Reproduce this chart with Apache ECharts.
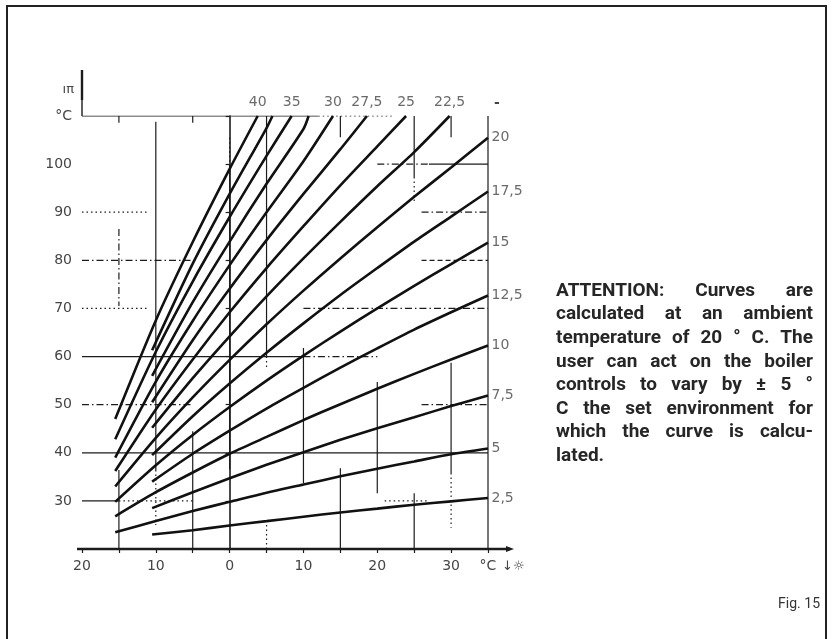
<!DOCTYPE html>
<html>
<head>
<meta charset="utf-8">
<script src="https://cdn.jsdelivr.net/npm/echarts@6/dist/echarts.min.js"></script>
<style>
  html, body { margin: 0; padding: 0; background: #fff; }
  #chart { width: 832px; height: 639px; }
</style>
</head>
<body>
<div id="chart"></div>
<script>
// Heating curves: outdoor temperature (°C) -> flow temperature (°C), one array per curve.
const curveNames = ['2,5', '5', '7,5', '10', '12,5', '15', '17,5', '20',
                    '22,5', '25', '27,5', '30', '32,5', '35', '37,5', '40'];

const curve2_5  = [[10.5, 23.0], [5, 23.9], [0, 24.9], [-5, 25.8], [-10, 26.7], [-15, 27.6], [-20, 28.4], [-25, 29.2], [-30, 29.9], [-35, 30.6]];
const curve5    = [[15.5, 23.5], [10, 25.8], [5, 27.9], [0, 29.8], [-5, 31.7], [-10, 33.4], [-15, 35.1], [-20, 36.7], [-25, 38.2], [-30, 39.7], [-35, 40.9]];
const curve7_5  = [[10.5, 28.5], [5, 31.8], [0, 34.7], [-5, 37.5], [-10, 40.1], [-15, 42.7], [-20, 45.1], [-25, 47.4], [-30, 49.7], [-35, 51.9]];
const curve10   = [[15.5, 26.8], [10, 31.8], [5, 35.9], [0, 39.8], [-5, 43.3], [-10, 46.8], [-15, 50.1], [-20, 53.3], [-25, 56.4], [-30, 59.4], [-35, 62.3]];
const curve12_5 = [[10.5, 34.0], [5, 39.8], [0, 44.6], [-5, 49.2], [-10, 53.5], [-15, 57.7], [-20, 61.7], [-25, 65.6], [-30, 69.2], [-35, 72.7]];
const curve15   = [[15.5, 29.8], [10, 37.4], [5, 43.7], [0, 49.5], [-5, 55.0], [-10, 60.2], [-15, 65.2], [-20, 70.0], [-25, 74.7], [-30, 79.2], [-35, 83.7]];
const curve17_5 = [[10.5, 39.5], [5, 47.6], [0, 54.4], [-5, 60.8], [-10, 66.9], [-15, 72.8], [-20, 78.4], [-25, 83.9], [-30, 89.1], [-35, 94.3]];
const curve20   = [[15.5, 33.0], [10, 43.1], [5, 51.5], [0, 59.3], [-5, 66.7], [-10, 73.7], [-15, 80.4], [-20, 86.9], [-25, 93.2], [-30, 99.3], [-35, 105.5]];
const curve22_5 = [[10.5, 45.2], [5, 55.5], [0, 64.2], [-5, 72.5], [-10, 80.4], [-15, 88.0], [-20, 95.4], [-25, 102.5], [-29.8, 110]];
const curve25   = [[15.5, 36.2], [10, 49.0], [5, 59.4], [0, 69.2], [-5, 78.4], [-10, 87.1], [-15, 95.6], [-20, 103.7], [-23.9, 110]];
const curve27_5 = [[10.5, 50.5], [5, 63.4], [0, 74.1], [-5, 84.2], [-10, 93.8], [-15, 103.1], [-18.6, 110]];
const curve30   = [[15.5, 39.0], [10, 54.8], [5, 67.4], [0, 79.0], [-5, 90.0], [-10, 100.6], [-14.0, 110]];
const curve32_5 = [[10.5, 56.0], [5, 71.3], [0, 83.9], [-5, 95.9], [-10, 107.3], [-10.7, 110]];
const curve35   = [[15.5, 42.8], [10, 61.0], [5, 75.6], [0, 89.0], [-5, 101.7], [-8.4, 110]];
const curve37_5 = [[10.5, 61.3], [5, 79.3], [0, 93.8], [-5, 107.5], [-5.8, 110]];
const curve40   = [[15.5, 47.0], [10, 67.5], [5, 83.8], [0, 99.0], [-3.8, 110]];

const curves = [curve2_5, curve5, curve7_5, curve10, curve12_5, curve15, curve17_5, curve20,
                curve22_5, curve25, curve27_5, curve30, curve32_5, curve35, curve37_5, curve40];

// Curves whose number is printed at the right-hand edge or above the top line
const rightLabelled = ['2,5', '5', '7,5', '10', '12,5', '15', '17,5', '20'];
const topLabelled = ['22,5', '25', '27,5', '30', '35', '40'];

// Axis ranges (°C)
const outdoorMin = -35, outdoorMax = 20, outdoorStep = 5;
const flowMin = 20, flowMax = 110, flowStep = 10;

const noteLines = [
  'ATTENTION: Curves are',
  'calculated at an ambient',
  'temperature of 20 ° C. The',
  'user can act on the boiler',
  'controls to vary by ± 5 °',
  'C the set environment for',
  'which the curve is calcu-',
  'lated.'
];
const figureCaption = 'Fig. 15';

// ---- drawing ----
const INK = '#1c1c1c';
const LABEL = '#454545';
const NUM_FONT = 'DejaVu Sans';
const DASH_DOT = [7, 3, 1.5, 3];
const DOTTED = [1.5, 3];
const DASHED = [5, 3];

// Reference lines of the chart sheet, in chart coordinates
const guides = [
  // horizontal
  [[20, 110], [-12, 110], 'solid'], [[-12, 110], [-22, 110], DOTTED],
  [[-20, 100], [-27, 100], DASH_DOT], [[-27, 100], [-35, 100], 'solid'],
  [[20, 90], [11, 90], DOTTED], [[-26, 90], [-35, 90], DASH_DOT],
  [[20, 80], [5, 80], DASH_DOT], [[-26, 80], [-35, 80], DASHED],
  [[20, 70], [11, 70], DOTTED], [[-10, 70], [-35, 70], DASH_DOT],
  [[20, 60], [-10, 60], 'solid'], [[-10, 60], [-20, 60], DASH_DOT],
  [[20, 50], [5, 50], DASH_DOT], [[-26, 50], [-35, 50], DASH_DOT],
  [[20, 40], [-35, 40], 'solid'],
  [[20, 30], [15, 30], 'solid'], [[15, 30], [5, 30], DOTTED], [[-21, 30], [-27, 30], DOTTED],
  // vertical
  [[15, 110], [15, 108.6], 'solid'], [[15, 86.5], [15, 70.5], DASH_DOT], [[15, 36.4], [15, 20], 'solid'],
  [[10, 108.8], [10, 36.4], 'solid'], [[10, 36.4], [10, 25], DOTTED],
  [[5, 110], [5, 108.6], 'solid'], [[5, 44.5], [5, 20], 'solid'],
  [[0, 105.5], [0, 99.6], DOTTED], [[0, 99.6], [0, 36.6], 'solid'],
  [[-5, 110], [-5, 60], 'solid'], [[-5, 60], [-5, 57.6], DOTTED], [[-5, 25], [-5, 20], DOTTED],
  [[-10, 61.8], [-10, 33.6], 'solid'],
  [[-15, 110], [-15, 105.6], 'solid'], [[-15, 36.8], [-15, 20], 'solid'],
  [[-20, 54.7], [-20, 31.6], 'solid'],
  [[-25, 110], [-25, 97.3], 'solid'], [[-25, 97.3], [-25, 92], DOTTED], [[-25, 31.6], [-25, 20], 'solid'],
  [[-30, 110], [-30, 105.6], 'solid'], [[-30, 58.7], [-30, 35.8], 'solid'], [[-30, 35.8], [-30, 24.4], DOTTED],
  [[-35, 110], [-35, 20], 'solid']
];

const chart = echarts.init(document.getElementById('chart'), null, { renderer: 'canvas' });

const guideSeries = guides.map(g => ({
  type: 'line', silent: true, symbol: 'none', z: 1,
  data: [g[0], g[1]],
  lineStyle: { color: INK, width: 1.2, type: g[2] },
  animation: false
}));

const curveSeries = curves.map((c, i) => ({
  name: curveNames[i], type: 'line', silent: true, symbol: 'none', z: 3,
  smooth: 0.25,
  data: c,
  lineStyle: { color: '#111', width: 2.6 },
  animation: false
}));

const labelPoints = [];
curves.forEach((c, i) => {
  const nm = curveNames[i];
  const last = c[c.length - 1];
  if (rightLabelled.includes(nm)) {
    labelPoints.push({ value: last, label: { show: true, position: 'right', distance: 3, formatter: nm } });
  } else if (topLabelled.includes(nm)) {
    labelPoints.push({ value: last, label: { show: true, position: 'top', distance: 6, formatter: nm } });
  }
});

const labelSeries = {
  type: 'scatter', silent: true, symbolSize: 1, z: 4,
  itemStyle: { color: 'rgba(0,0,0,0)' },
  label: { color: LABEL, fontFamily: NUM_FONT, fontSize: 14 },
  data: labelPoints,
  animation: false
};

chart.setOption({
  backgroundColor: '#fff',
  animation: false,
  grid: { left: 82, right: 344, top: 116, bottom: 90, containLabel: false },
  xAxis: {
    type: 'value', inverse: true,
    min: outdoorMin, max: outdoorMax, interval: outdoorStep,
    axisLine: { show: false },
    axisTick: { show: true, length: 4, lineStyle: { color: INK, width: 1.2 } },
    axisLabel: {
      margin: 10, color: LABEL, fontFamily: NUM_FONT, fontSize: 14,
      formatter: v => (v === outdoorMin ? '°C' : (v % 10 === 0 ? String(Math.abs(v)) : ''))
    },
    splitLine: { show: false }
  },
  yAxis: {
    type: 'value', min: flowMin, max: flowMax, interval: flowStep,
    axisLine: { show: true, lineStyle: { color: INK, width: 1.6 } },
    axisTick: { show: true, length: 4, lineStyle: { color: INK, width: 1.2 } },
    axisLabel: {
      margin: 10, color: LABEL, fontFamily: NUM_FONT, fontSize: 14,
      formatter: v => (v === flowMax ? '°C' : (v === flowMin ? '' : String(v)))
    },
    splitLine: { show: false }
  },
  series: [...guideSeries, ...curveSeries, labelSeries]
});

// Axis extensions, symbols and the explanatory note
const P = (x, y) => chart.convertToPixel({ gridIndex: 0 }, [x, y]);
const origin = P(outdoorMax, flowMin);
const topLeft = P(outdoorMax, flowMax);
const rightEnd = P(outdoorMin, flowMin);
const topRight = P(outdoorMin, flowMax);

const graphics = [];
// frame
graphics.push({ type: 'rect', shape: { x: 7, y: 6, width: 819, height: 645 },
  style: { fill: 'none', stroke: '#222', lineWidth: 2 }, silent: true });
// vertical axis above the top line
graphics.push({ type: 'line', shape: { x1: topLeft[0], y1: topLeft[1], x2: topLeft[0], y2: 70 },
  style: { stroke: INK, lineWidth: 1.4 } });
graphics.push({ type: 'line', shape: { x1: topLeft[0], y1: 100, x2: topLeft[0], y2: 70 },
  style: { stroke: INK, lineWidth: 2.4 } });
graphics.push({ type: 'text', x: topLeft[0] - 8, y: 90,
  style: { text: 'ıπ', fill: LABEL, font: '13px ' + NUM_FONT, align: 'right', verticalAlign: 'middle' } });
// horizontal axis with arrow
graphics.push({ type: 'line', shape: { x1: origin[0] - 5, y1: origin[1], x2: rightEnd[0] + 20, y2: origin[1] },
  style: { stroke: INK, lineWidth: 2.4 } });
graphics.push({ type: 'polygon', shape: { points: [[rightEnd[0] + 26, origin[1]], [rightEnd[0] + 18, origin[1] - 3], [rightEnd[0] + 18, origin[1] + 3]] },
  style: { fill: INK } });
graphics.push({ type: 'text', x: rightEnd[0] + 14, y: origin[1] + 18,
  style: { text: '↓☼', fill: LABEL, font: '13px ' + NUM_FONT, align: 'left', verticalAlign: 'middle' } });
// small mark at the top right of the label row
graphics.push({ type: 'text', x: topRight[0] + 9, y: topRight[1] - 13,
  style: { text: '-', fill: LABEL, font: 'bold 14px ' + NUM_FONT, align: 'center', verticalAlign: 'middle' } });

// justified note
const noteFont = 'bold 19px Roboto';
const noteLeft = 556, noteRight = 813, noteTop = 291, noteLead = 23.6;
const ctx = document.createElement('canvas').getContext('2d');
ctx.font = noteFont;
noteLines.forEach((line, li) => {
  const y = noteTop + li * noteLead;
  const words = line.split(' ');
  const last = li === noteLines.length - 1;
  if (last || words.length === 1) {
    graphics.push({ type: 'text', x: noteLeft, y,
      style: { text: line, fill: '#262626', font: noteFont, align: 'left', verticalAlign: 'middle' } });
    return;
  }
  const widths = words.map(w => ctx.measureText(w).width);
  const total = widths.reduce((a, b) => a + b, 0);
  const gap = (noteRight - noteLeft - total) / (words.length - 1);
  let x = noteLeft;
  words.forEach((w, wi) => {
    graphics.push({ type: 'text', x, y,
      style: { text: w, fill: '#262626', font: noteFont, align: 'left', verticalAlign: 'middle' } });
    x += widths[wi] + gap;
  });
});
graphics.push({ type: 'text', x: 820, y: 604,
  style: { text: figureCaption, fill: '#333', font: '14px Roboto', align: 'right', verticalAlign: 'middle' } });

chart.setOption({ graphic: graphics });
</script>
</body>
</html>
